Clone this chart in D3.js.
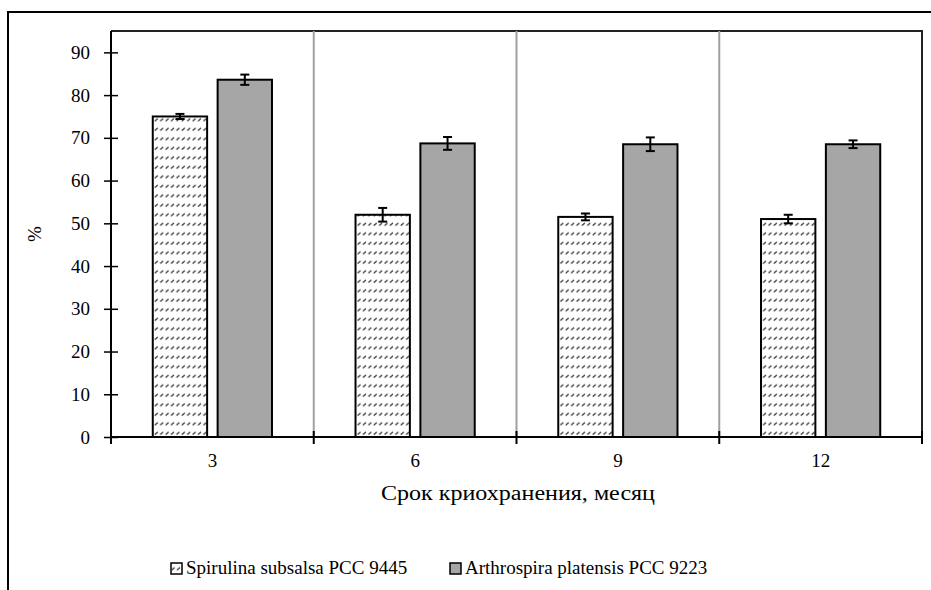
<!DOCTYPE html>
<html>
<head>
<meta charset="utf-8">
<script src="https://cdn.jsdelivr.net/npm/d3@7"></script>
<style>
  html, body { margin: 0; padding: 0; background: #fff; }
  svg { display: block; }
</style>
</head>
<body>
<svg id="chart" width="931" height="590"></svg>
<script>
// Storage period, months
const categories = ["3", "6", "9", "12"];
const seriesNames = ["Spirulina subsalsa PCC 9445", "Arthrospira platensis PCC 9223"];
// Mean values, %
const spirulinaValues = [75.0, 52.0, 51.5, 51.0];
const arthrospiraValues = [83.6, 68.7, 68.5, 68.5];
// Error bar half-widths, %
const spirulinaErrors = [0.6, 1.6, 0.8, 1.0];
const arthrospiraErrors = [1.2, 1.5, 1.6, 0.9];
const yTicks = [0, 10, 20, 30, 40, 50, 60, 70, 80, 90];
const xTitle = "Срок криохранения, месяц";
const yTitle = "%";

const FONT = '"Liberation Serif"';
const FS = 19;

const rows = categories.map((c, i) => ({
  cat: c,
  bars: [
    { s: seriesNames[0], v: spirulinaValues[i], e: spirulinaErrors[i] },
    { s: seriesNames[1], v: arthrospiraValues[i], e: arthrospiraErrors[i] }
  ]
}));

const svg = d3.select("#chart");
const plot = { left: 111, right: 922, top: 31, bottom: 437 };

// hatched fill: rows of short slanted dashes
const defs = svg.append("defs");
const pat = defs.append("pattern")
  .attr("id", "dashes")
  .attr("patternUnits", "userSpaceOnUse")
  .attr("width", 5.4).attr("height", 9.5);
pat.append("rect").attr("width", 5.4).attr("height", 9.5).attr("fill", "#fff");
pat.append("path")
  .attr("d", "M0.6,7.2 L3.6,4.6")
  .attr("stroke", "#2a2a2a").attr("stroke-width", 1.2).attr("fill", "none");

// outer frame
svg.append("rect")
  .attr("x", 8).attr("y", 12).attr("width", 940).attr("height", 600)
  .attr("fill", "none").attr("stroke", "#000").attr("stroke-width", 2);

const x = d3.scaleBand().domain(categories).range([plot.left, plot.right]).padding(0);
const bw = x.bandwidth();
const xs = d3.scaleBand().domain(seriesNames)
  .range([0.206 * bw, 0.794 * bw]).paddingInner(0.162).paddingOuter(0);
const y = d3.scaleLinear().domain([0, 95]).range([plot.bottom, plot.top]);

// plot area border (top and right)
svg.append("path")
  .attr("d", `M${plot.left},${plot.top}H${plot.right}V${plot.bottom}`)
  .attr("fill", "none").attr("stroke", "#222").attr("stroke-width", 2);

// vertical separators between categories
svg.append("g").selectAll("line")
  .data(categories.slice(1))
  .join("line")
  .attr("x1", d => x(d)).attr("x2", d => x(d))
  .attr("y1", plot.top).attr("y2", plot.bottom)
  .attr("stroke", "#a0a0a0").attr("stroke-width", 2);

// bars
const groups = svg.append("g").selectAll("g")
  .data(rows).join("g")
  .attr("transform", d => `translate(${x(d.cat)},0)`);

groups.selectAll("rect")
  .data(d => d.bars).join("rect")
  .attr("x", d => xs(d.s))
  .attr("y", d => y(d.v))
  .attr("width", xs.bandwidth())
  .attr("height", d => y(0) - y(d.v))
  .attr("fill", (d, i) => i === 0 ? "url(#dashes)" : "#a6a6a6")
  .attr("stroke", "#000").attr("stroke-width", 2);

// error bars
const eb = groups.selectAll("g.err")
  .data(d => d.bars).join("g").attr("class", "err")
  .attr("stroke", "#000").attr("stroke-width", 2);
eb.append("line")
  .attr("x1", d => xs(d.s) + xs.bandwidth() / 2)
  .attr("x2", d => xs(d.s) + xs.bandwidth() / 2)
  .attr("y1", d => y(d.v + d.e)).attr("y2", d => y(d.v - d.e));
eb.append("line")
  .attr("x1", d => xs(d.s) + xs.bandwidth() / 2 - 4.5)
  .attr("x2", d => xs(d.s) + xs.bandwidth() / 2 + 4.5)
  .attr("y1", d => y(d.v + d.e)).attr("y2", d => y(d.v + d.e));
eb.append("line")
  .attr("x1", d => xs(d.s) + xs.bandwidth() / 2 - 4.5)
  .attr("x2", d => xs(d.s) + xs.bandwidth() / 2 + 4.5)
  .attr("y1", d => y(d.v - d.e)).attr("y2", d => y(d.v - d.e));

// y axis
const yAxis = svg.append("g")
  .attr("transform", `translate(${plot.left},0)`)
  .call(d3.axisLeft(y).tickValues(yTicks).tickSize(7).tickPadding(14));
yAxis.attr("font-family", FONT).attr("font-size", FS);
yAxis.select(".domain").attr("stroke", "#000").attr("stroke-width", 2)
  .attr("d", `M0,${plot.top}V${plot.bottom}`);
yAxis.selectAll(".tick line").attr("x1", -7).attr("x2", 7).attr("stroke-width", 1.5);
yAxis.selectAll(".tick text").attr("font-family", FONT).attr("font-size", FS).attr("fill", "#000");

// x axis with ticks on category boundaries
const xAxis = svg.append("g").attr("transform", `translate(0,${plot.bottom})`);
xAxis.append("line")
  .attr("x1", plot.left).attr("x2", plot.right)
  .attr("stroke", "#000").attr("stroke-width", 2);
const bounds = categories.map(c => x(c)).concat([x(categories[categories.length - 1]) + bw]);
xAxis.selectAll("line.tk").data(bounds).join("line").attr("class", "tk")
  .attr("x1", d => d).attr("x2", d => d).attr("y1", -6).attr("y2", 7)
  .attr("stroke", "#000").attr("stroke-width", 2);
xAxis.selectAll("text").data(categories).join("text")
  .attr("x", d => x(d) + bw / 2).attr("y", 30)
  .attr("text-anchor", "middle").attr("font-family", FONT).attr("font-size", FS).text(d => d);

// axis titles
svg.append("text")
  .attr("x", 381).attr("y", 500)
  .attr("font-family", FONT).attr("font-size", 20)
  .attr("textLength", 274).attr("lengthAdjust", "spacingAndGlyphs")
  .text(xTitle);
svg.append("text")
  .attr("transform", `translate(41,${(plot.top + plot.bottom) / 2}) rotate(-90)`)
  .attr("text-anchor", "middle").attr("font-family", FONT).attr("font-size", FS).text(yTitle);

// legend
const legendItems = [
  { name: seriesNames[0], fill: "url(#dashes)", x: 171 },
  { name: seriesNames[1], fill: "#a6a6a6", x: 450 }
];
const lg = svg.append("g").selectAll("g").data(legendItems).join("g")
  .attr("transform", d => `translate(${d.x},563)`);
lg.append("rect").attr("width", 11).attr("height", 11)
  .attr("fill", d => d.fill).attr("stroke", "#000").attr("stroke-width", 1.5);
lg.append("text").attr("x", 15).attr("y", 11)
  .attr("font-family", FONT).attr("font-size", FS).text(d => d.name);
</script>
</body>
</html>
